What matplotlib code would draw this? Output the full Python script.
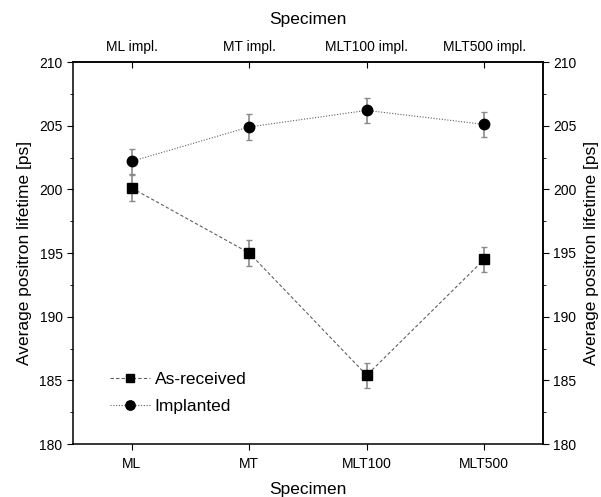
import matplotlib
matplotlib.use("Agg")
import matplotlib.pyplot as plt

plt.rcParams['font.family'] = ['Liberation Sans', 'DejaVu Sans']

specimens = ["ML", "MT", "MLT100", "MLT500"]
specimens_impl = ["ML impl.", "MT impl.", "MLT100 impl.", "MLT500 impl."]
as_received = [200.1, 195.0, 185.4, 194.5]
as_received_err = [1.0, 1.0, 1.0, 1.0]
implanted = [202.2, 204.9, 206.2, 205.1]
implanted_err = [1.0, 1.0, 1.0, 1.0]

fig = plt.figure(figsize=(6.01, 4.97), dpi=100)
ax = fig.add_axes([73 / 601, 1 - 444 / 497, 470 / 601, 382 / 497])

x = list(range(len(specimens)))
ax.errorbar(x, as_received, yerr=as_received_err, fmt='none',
            ecolor='#8a8a8a', elinewidth=1.2, capsize=2.5, capthick=1.0, zorder=3)
ax.plot(x, as_received, color='#606060', lw=0.8, ls=(0, (3, 2)),
        marker='s', ms=6.5, mfc='black', mec='black', zorder=4, label="As-received")
ax.errorbar(x, implanted, yerr=implanted_err, fmt='none',
            ecolor='#8a8a8a', elinewidth=1.2, capsize=2.5, capthick=1.0, zorder=3)
ax.plot(x, implanted, color='#606060', lw=0.8, ls=(0, (1, 1.5)),
        marker='o', ms=7.5, mfc='black', mec='black', zorder=4, label="Implanted")

ax.legend(loc='center left', bbox_to_anchor=(28 / 470, 51 / 382), frameon=False,
          fontsize=12.5, borderpad=0, handlelength=2.3, handletextpad=0.3,
          labelspacing=0.7, markerscale=0.9)

ax.set_xlim(-0.5, 3.5)
ax.set_ylim(180, 210)
ax.set_xticks(x)
ax.set_xticklabels(specimens)
ax.set_yticks(range(180, 211, 5))
ax.set_yticks([182.5 + 5 * i for i in range(6)], minor=True)
ax.tick_params(axis='x', which='major', direction='out', length=4.5, pad=5, labelsize=10)
ax.tick_params(axis='y', which='major', direction='out', length=4, pad=3.5, labelsize=10)
ax.tick_params(axis='y', which='minor', direction='out', length=2.5)
ax.set_xlabel("Specimen", fontsize=12.5, labelpad=8)
ax.set_ylabel("Average positron lifetime [ps]", fontsize=12.5, labelpad=5)

ay = ax.secondary_yaxis('right')
ay.set_yticks(range(180, 211, 5))
ay.set_yticks([182.5 + 5 * i for i in range(6)], minor=True)
ay.tick_params(which='major', direction='out', length=4, pad=3.5, labelsize=10)
ay.tick_params(which='minor', direction='out', length=2.5)
ay.set_ylabel("Average positron lifetime [ps]", fontsize=12.5, labelpad=5)

axt = ax.secondary_xaxis('top')
axt.set_xticks(x)
axt.set_xticklabels(specimens_impl)
axt.tick_params(direction='in', length=4.5, pad=6, labelsize=10)
axt.set_xlabel("Specimen", fontsize=12.5, labelpad=11)

for s in ax.spines.values():
    s.set_linewidth(1.1)
for s in ay.spines.values():
    s.set_linewidth(1.1)
for s in axt.spines.values():
    s.set_linewidth(1.1)

fig.savefig("out.png", dpi=100)
